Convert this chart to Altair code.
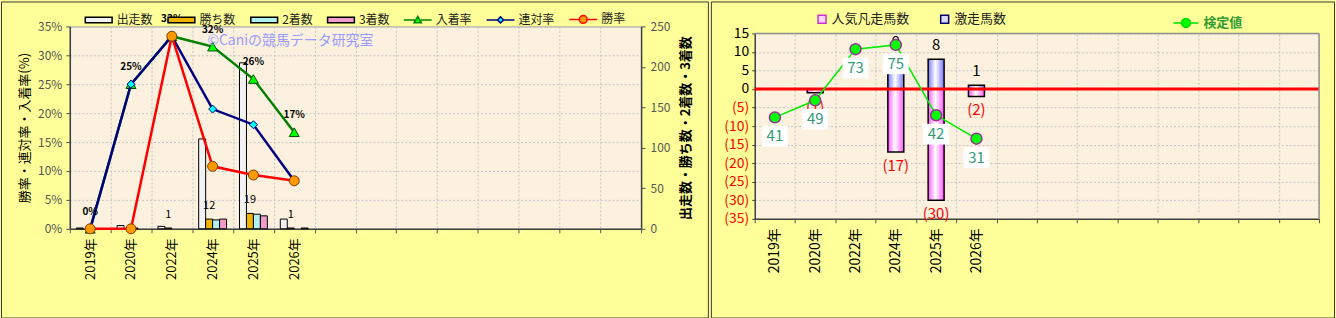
import altair as alt
import pandas as pd

FONT = "Noto Sans CJK JP"

# ---------------- data ----------------
years = ["2019年", "2020年", "2022年", "2024年", "2025年", "2026年"]
n_slots = 14
slots = years + [f"_{i}" for i in range(n_slots - len(years))]

# left panel: counts (right axis)
bar_series = ["出走数", "勝ち数", "2着数", "3着数"]
runs = [1, 4, 3, 111, 205, 12]
wins = [0, 0, 1, 12, 19, 1]
seconds = [0, 1, 0, 11, 18, 0]
thirds = [0, 0, 0, 12, 16, 1]

# left panel: rates in % (left axis)
line_series = ["入着率", "連対率", "勝率"]
place_rate = [0.0, 25.0, 33.3, 31.5, 25.9, 16.7]
quinella_rate = [0.0, 25.0, 33.3, 20.7, 18.0, 8.3]
win_rate = [0.0, 0.0, 33.3, 10.8, 9.3, 8.3]

pct_ticks = [0, 5, 10, 15, 20, 25, 30, 35]
count_ticks = [0, 50, 100, 150, 200, 250]

# right panel
flop_series = "人気凡走馬数"
surge_series = "激走馬数"
flop = [0, -1, 0, -17, -30, -2]
surge = [0, 0, 0, 9, 8, 1]
test_series = "検定値"
test_values = [41, 49, 73, 75, 42, 31]
right_ticks = [-35, -30, -25, -20, -15, -10, -5, 0, 5, 10, 15]

# ---------------- styles ----------------
bar_fills = ["#f2f2f2", "#f0b400", "#b0f0f0", "#f09ccc"]
line_colors = ["#008000", "#000080", "#ff0000"]
marker_fills = ["#00ff00", "#00ffff", "#ff9900"]
marker_strokes = ["#005000", "#000080", "#7a3a00"]
marker_shapes = ["triangle-up", "diamond", "circle"]
marker_sizes = [100, 64, 100]

BAR_PATH = "M-0.96,-0.2H0.96V0.2H-0.96Z"
TRI_PATH = "M-1,0H-0.22M0.22,0H1M0,-0.25L0.26,0.2L-0.26,0.2Z"
DIA_PATH = "M-1,0H-0.22M0.22,0H1M0,-0.22L0.22,0L0,0.22L-0.22,0Z"
CIR_PATH = "M-1,0H-0.28M0.28,0H1M0.28,0A0.28,0.28,0,1,1,-0.28,0A0.28,0.28,0,1,1,0.28,0Z"
TEST_PATH = "M-1,0H-0.36M0.36,0H1M0.36,0A0.36,0.36,0,1,1,-0.36,0A0.36,0.36,0,1,1,0.36,0Z"
BOX_PATH = "M-1,-0.8H1V0.8H-1Z"

GRID = "#c4c4c4"
AXIS = "#404040"
PLOT_BG = "#fbf1de"
OUTER_BG = "#ffff99"

W1, H1 = 573, 203
W2, H2 = 566, 193      # right view starts at the same top as the left one
TOP2 = 7               # right plot area starts 7px lower

one = pd.DataFrame({"k": [0]})


def frame_rule(x1, x2, y1, y2, color="#3a3a3a", width=1):
    return alt.Chart(one).mark_rule(color=color, strokeWidth=width).encode(
        x=alt.value(x1), x2=alt.value(x2), y=alt.value(y1), y2=alt.value(y2)
    )


def frame(L, R, T, B):
    return [frame_rule(L, R, T, T), frame_rule(L, R, B, B),
            frame_rule(L, L, T, B), frame_rule(R, R, T, B)]


label_expr = "indexof(datum.label, '_') == 0 ? '' : datum.label"


def x_enc(font_size, pad):
    return alt.X(
        "year:N", title=None,
        scale=alt.Scale(domain=slots, paddingInner=0, paddingOuter=0),
        axis=alt.Axis(tickBand="extent", labelAngle=270, labelExpr=label_expr,
                      labelFontSize=font_size, labelColor="black", labelPadding=pad,
                      tickSize=4, tickColor="#555555", domainColor=AXIS, domainWidth=1.5,
                      grid=True, gridColor=GRID, gridDash=[2, 2]),
    )


# ================= LEFT PANEL =================
bars_df = pd.DataFrame({
    "year": years * 4,
    "series": [s for s in bar_series for _ in years],
    "count": runs + wins + seconds + thirds,
})
rates_df = pd.DataFrame({
    "year": years * 3,
    "series": [s for s in line_series for _ in years],
    "rate": place_rate + quinella_rate + win_rate,
})

legend_items_left = bar_series + line_series
fill_scale = alt.Scale(domain=legend_items_left, range=bar_fills + marker_fills)
stroke_scale = alt.Scale(domain=legend_items_left, range=["#000000"] * 4 + line_colors)
shape_scale = alt.Scale(domain=legend_items_left,
                        range=[BAR_PATH] * 4 + [TRI_PATH, DIA_PATH, CIR_PATH])
leg_left = alt.Legend(title=None, orient="none", legendX=14, legendY=-22,
                      direction="horizontal", columns=7, symbolSize=784,
                      symbolStrokeWidth=1.5, labelFontSize=12, labelColor="#222222",
                      labelOffset=3, columnPadding=11, padding=0)

x_left = x_enc(13, 5)
xoff = alt.XOffset("series:N", scale=alt.Scale(domain=bar_series, paddingInner=0,
                                               paddingOuter=0.93))
y_count = alt.Y(
    "count:Q", scale=alt.Scale(domain=[0, 250]),
    axis=alt.Axis(orient="right", values=count_ticks, grid=False,
                  title="出走数・勝ち数・2着数・3着数", titleAngle=270,
                  titleBaseline="top", titlePadding=10, titleFontSize=13,
                  titleFontWeight="bold", titleColor="black",
                  labelFontSize=12, labelColor="#555555", labelPadding=5,
                  tickSize=4, tickColor="#555555", domainColor=AXIS, domainWidth=1.5),
)

bars = alt.Chart(bars_df).transform_filter("datum.count > 0").mark_bar(
    stroke="black", strokeWidth=1
).encode(x=x_left, xOffset=xoff, y=y_count,
         fill=alt.Fill("series:N", scale=fill_scale, legend=leg_left))

win_labels = alt.Chart(bars_df).transform_filter(
    f"datum.series == '{bar_series[1]}' && datum.count > 0"
).mark_text(dy=-13, fontSize=11, color="black").encode(
    x=x_left, xOffset=xoff, y=y_count, text="count:Q")

y_rate = alt.Y(
    "rate:Q", scale=alt.Scale(domain=[0, 35]),
    axis=alt.Axis(orient="left", values=pct_ticks, labelExpr="datum.value + '%'",
                  title="勝率・連対率・入着率(%)", titleFontSize=13, titleColor="black",
                  titleFontWeight="normal", titlePadding=6,
                  labelFontSize=12, labelColor="#555555", labelPadding=4,
                  tickSize=4, tickColor="#555555", domainColor=AXIS, domainWidth=1.5,
                  grid=True, gridColor=GRID, gridDash=[2, 2]),
)

rate_layers = []
for s, lc, mf, ms, shp, sz in zip(line_series, line_colors, marker_fills,
                                  marker_strokes, marker_shapes, marker_sizes):
    base = alt.Chart(rates_df).transform_filter(f"datum.series == '{s}'")
    rate_layers.append(base.mark_line(color=lc, strokeWidth=2.5).encode(x=x_left, y=y_rate))
    rate_layers.append(base.mark_point(shape=shp, filled=True, fill=mf, stroke=ms,
                                       strokeWidth=1, size=sz, opacity=1)
                       .encode(x=x_left, y=y_rate))

rate_labels = alt.Chart(rates_df).transform_filter(
    f"datum.series == '{line_series[0]}'"
).transform_calculate(lab="format(datum.rate, '.0f') + '%'").mark_text(
    dy=-17, fontSize=10, fontWeight="bold", color="black"
).encode(x=x_left, y=y_rate, text="lab:N")

legend_left = alt.Chart(pd.DataFrame({"series": legend_items_left})).transform_filter(
    "false"
).mark_point(filled=True, opacity=1, strokeWidth=1.5).encode(
    fill=alt.Fill("series:N", scale=fill_scale, legend=leg_left),
    stroke=alt.Stroke("series:N", scale=stroke_scale, legend=leg_left),
    shape=alt.Shape("series:N", scale=shape_scale, legend=leg_left),
)

watermark = alt.Chart(one).mark_text(
    text="©Caniの競馬データ研究室", color="#9a9aff", fontSize=14, align="left",
    baseline="middle"
).encode(x=alt.value(138), y=alt.value(15))

left = alt.layer(
    alt.layer(bars, win_labels),
    alt.layer(*rate_layers, rate_labels),
    legend_left, watermark,
    *frame(-68.5, 640.5, -24.5, 292.5),
).resolve_scale(y="independent").properties(
    width=W1, height=H1, view=alt.ViewBackground(fill=PLOT_BG, stroke="#a0a0a0"))

# ================= RIGHT PANEL =================
right_df = pd.DataFrame({
    "year": years * 2,
    "series": [flop_series] * len(years) + [surge_series] * len(years),
    "value": flop + surge,
})
test_df = pd.DataFrame({"year": years, "test": test_values})


def hgrad(edge):
    return {"gradient": "linear", "x1": 0, "x2": 1, "y1": 0, "y2": 0,
            "stops": [{"offset": 0, "color": edge},
                      {"offset": 0.45, "color": "#ffffff"},
                      {"offset": 1, "color": edge}]}


x_right = x_enc(14, 5)
y_right = alt.Y(
    "value:Q", scale=alt.Scale(domain=[-35, 15], range=[H2, TOP2]),
    axis=alt.Axis(orient="left", values=right_ticks, title=None,
                  labelExpr="datum.value < 0 ? '(' + (-datum.value) + ')' : datum.label",
                  labelColor={"condition": {"test": "datum.value < 0", "value": "#ff0000"},
                              "value": "black"},
                  labelFontSize=14, labelPadding=3, tickSize=3, tickColor=AXIS,
                  domainColor=AXIS, domainWidth=1.5,
                  grid=True, gridColor=GRID, gridDash=[2, 2]),
)

# yellow strip above the right plot area, then its grey top/right border
top_strip = alt.Chart(one).mark_rect(fill=OUTER_BG).encode(
    x=alt.value(0), x2=alt.value(W2 + 1), y=alt.value(-1), y2=alt.value(TOP2))
border_r = [frame_rule(0, W2, TOP2, TOP2, "#909090", 1.5),
            frame_rule(W2, W2, TOP2, H2, "#909090", 1.5)]

flop_bars = alt.Chart(right_df).transform_filter(
    f"datum.series == '{flop_series}' && datum.value != 0"
).mark_bar(width=16, fill=hgrad("#ff55ff"), stroke="black", strokeWidth=1.5).encode(
    x=x_right, y=y_right)
surge_bars = alt.Chart(right_df).transform_filter(
    f"datum.series == '{surge_series}' && datum.value != 0"
).mark_bar(width=16, fill=hgrad("#7777ff"), stroke="black", strokeWidth=1.5).encode(
    x=x_right, y=y_right)
neg_labels = alt.Chart(right_df).transform_filter(
    f"datum.series == '{flop_series}' && datum.value < 0"
).transform_calculate(lab="'(' + (-datum.value) + ')'").mark_text(
    dy=14, fontSize=15, color="#ff0000").encode(x=x_right, y=y_right, text="lab:N")
pos_labels = alt.Chart(right_df).transform_filter(
    f"datum.series == '{surge_series}' && datum.value > 0"
).mark_text(dy=-14, fontSize=15, color="black").encode(
    x=x_right, y=y_right, text="value:Q")
zero_rule = alt.Chart(pd.DataFrame({"value": [0]})).mark_rule(
    color="#ff0000", strokeWidth=3).encode(y=y_right)

y_test = alt.Y("test:Q", scale=alt.Scale(domain=[-6.6, 80.4], range=[H2, TOP2]), axis=None)
test_line = alt.Chart(test_df).mark_line(color="#00ee00", strokeWidth=1.5).encode(
    x=x_right, y=y_test)
test_boxes = alt.Chart(test_df).mark_point(
    shape=BOX_PATH, filled=True, fill="white", opacity=1, size=676, yOffset=19
).encode(x=x_right, y=y_test)
test_text = alt.Chart(test_df).mark_text(dy=19, fontSize=15, color="#339977").encode(
    x=x_right, y=y_test, text="test:Q")
test_pts = alt.Chart(test_df).mark_point(
    shape="circle", filled=True, fill="#00ff00", stroke="#993399", strokeWidth=1.5,
    size=121, opacity=1).encode(x=x_right, y=y_test)

leg_r1 = alt.Legend(title=None, orient="none", legendX=61, legendY=-14,
                    direction="horizontal", columns=2, symbolSize=64,
                    symbolStrokeWidth=1.5, labelFontSize=13, labelColor="#222222",
                    labelOffset=3, columnPadding=27, padding=0)
bitems = [flop_series, surge_series]
legend_bar_r = alt.Chart(pd.DataFrame({"bitem": bitems})).transform_filter("false").mark_point(
    filled=True, shape="square", opacity=1, strokeWidth=1.5
).encode(
    fill=alt.Fill("bitem:N", scale=alt.Scale(domain=bitems, range=["#ffd6ff", "#dcdcff"]),
                  legend=leg_r1),
    stroke=alt.Stroke("bitem:N", scale=alt.Scale(domain=bitems, range=["#cc33cc", "#000066"]),
                      legend=leg_r1),
)
leg_r2 = alt.Legend(title=None, orient="none", legendX=419, legendY=-17,
                    direction="horizontal", symbolSize=625, symbolStrokeWidth=1.5,
                    labelFontSize=13, labelFontWeight="bold", labelColor="#339933",
                    labelOffset=4, padding=0)
legend_line_r = alt.Chart(pd.DataFrame({"litem": [test_series]})).transform_filter(
    "false").mark_point(filled=True, fill="#00ff00", strokeWidth=1.5, opacity=1).encode(
    shape=alt.Shape("litem:N", scale=alt.Scale(domain=[test_series], range=[TEST_PATH]),
                    legend=leg_r2),
    stroke=alt.Stroke("litem:N", scale=alt.Scale(domain=[test_series], range=["#00dd00"]),
                      legend=leg_r2),
)

right = alt.layer(
    alt.layer(flop_bars, surge_bars, neg_labels, pos_labels, zero_rule),
    alt.layer(test_line, test_boxes, test_text, test_pts),
    top_strip, *border_r,
    legend_bar_r, legend_line_r,
    *frame(-43.5, 581.5, -24.5, 292.5),
).resolve_scale(
    y="independent", fill="independent", stroke="independent", shape="independent"
).properties(
    width=W2, height=H2, view=alt.ViewBackground(fill=PLOT_BG, stroke="transparent"))

chart = alt.hconcat(left, right, spacing=0).resolve_scale(
    fill="independent", stroke="independent", shape="independent"
).properties(padding=0).configure(
    background=OUTER_BG, font=FONT
).configure_axis(
    labelFont=FONT, titleFont=FONT
).configure_legend(labelFont=FONT).configure_text(font=FONT)

chart.save("out.html", embed_options={"renderer": "svg", "actions": False})
